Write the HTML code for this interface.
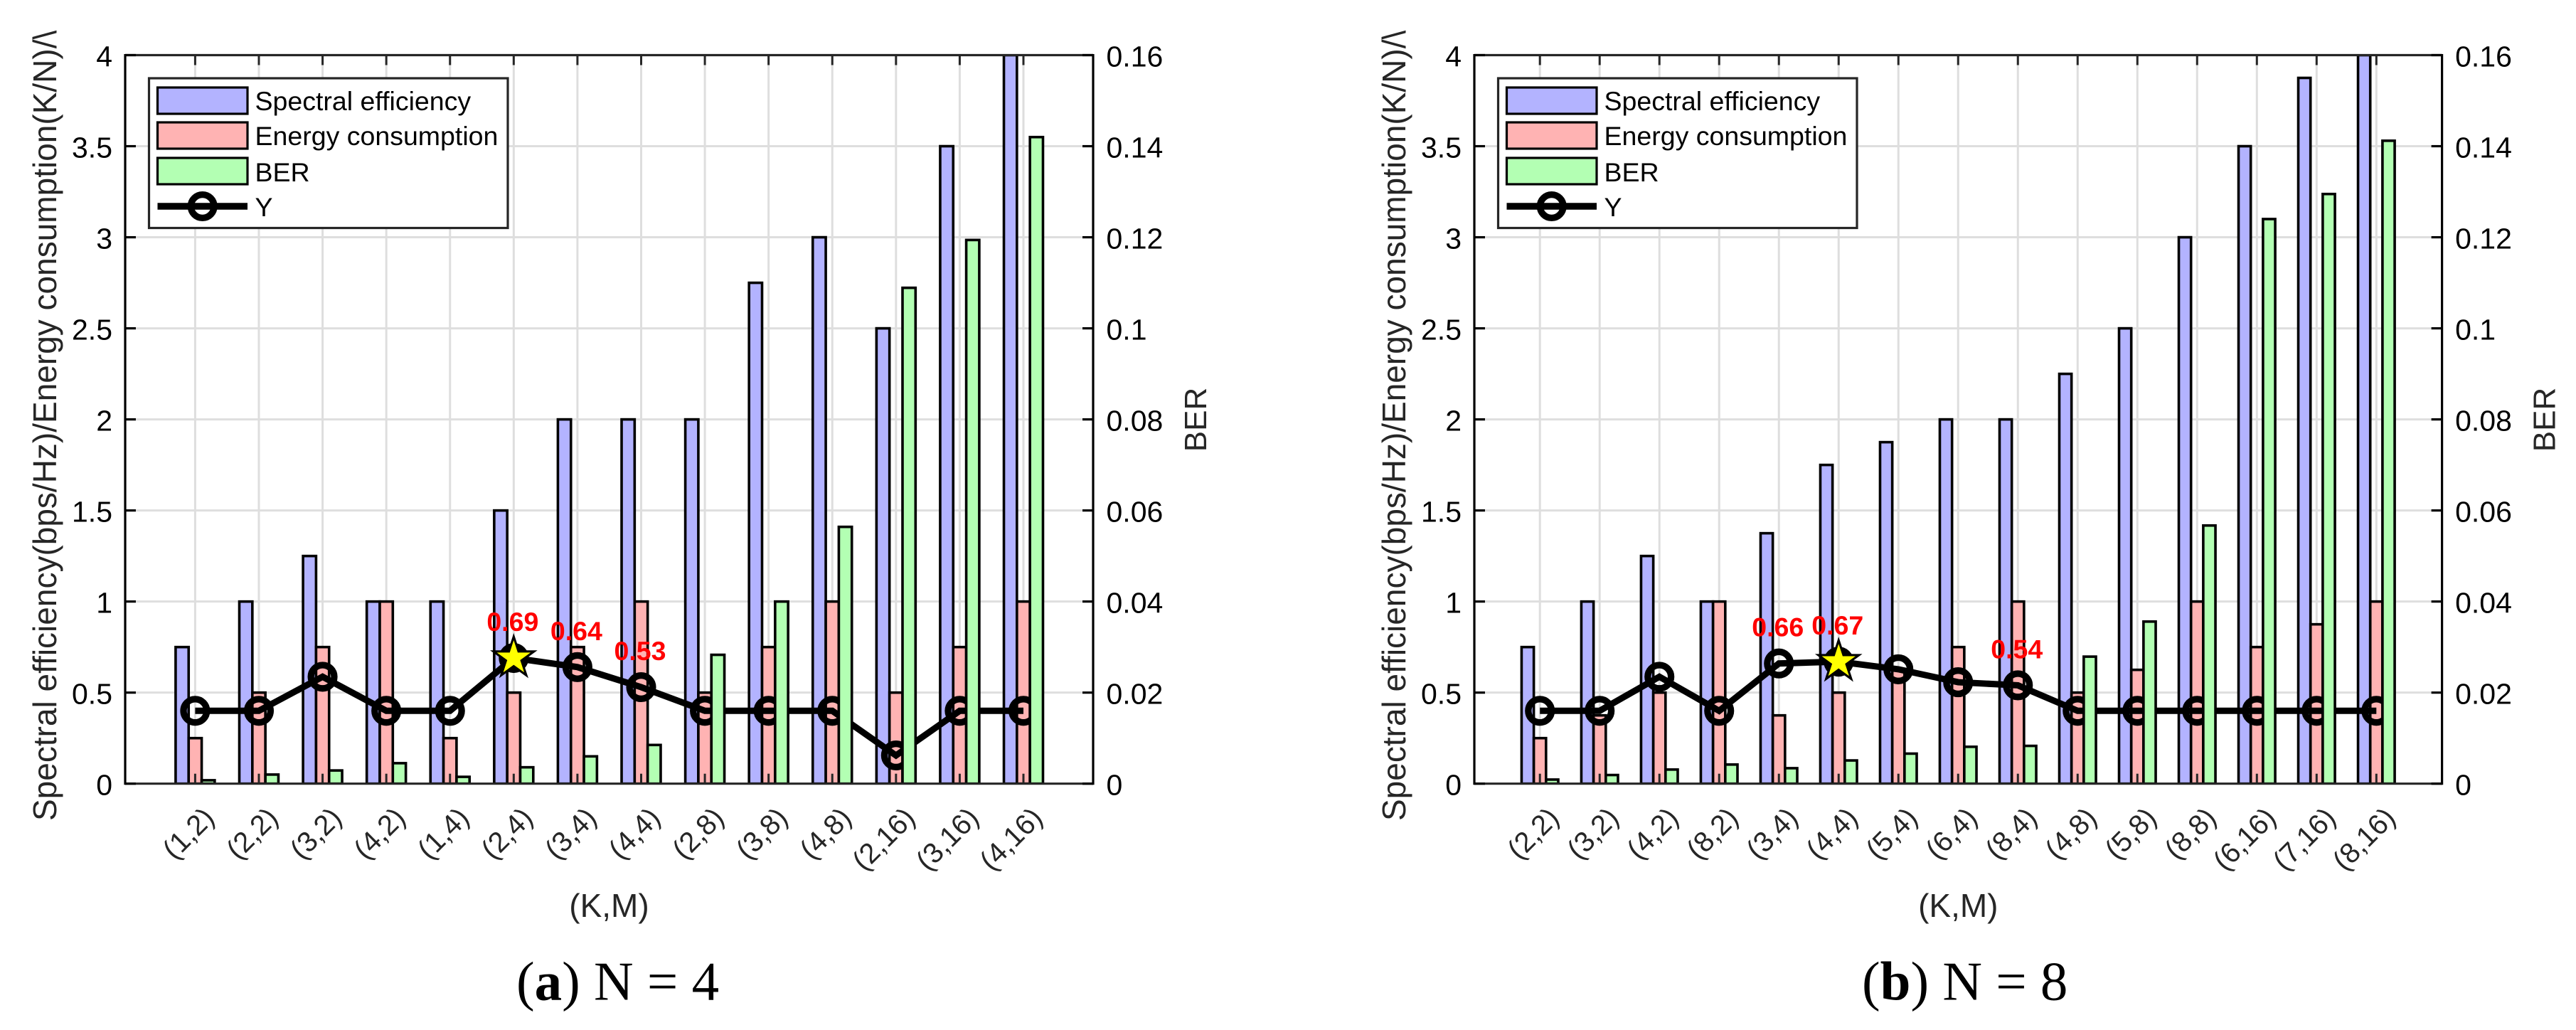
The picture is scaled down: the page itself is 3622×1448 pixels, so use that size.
<!DOCTYPE html>
<html lang="en">
<head>
<meta charset="utf-8">
<title>Spectral efficiency, energy consumption and BER for N = 4 and N = 8</title>
<style>
html,body{margin:0;padding:0;background:#fff;width:3622px;height:1448px;overflow:hidden}
svg{display:block;font-family:"Liberation Sans",Arial,sans-serif}
</style>
</head>
<body>
<svg id="figure" xmlns="http://www.w3.org/2000/svg" width="3622" height="1448" viewBox="0 0 3622 1448"></svg>
<script>
/* Panel (a) N = 4 data */
const categoriesA = ['(1,2)','(2,2)','(3,2)','(4,2)','(1,4)','(2,4)','(3,4)','(4,4)','(2,8)','(3,8)','(4,8)','(2,16)','(3,16)','(4,16)'];
const spectralA = [0.75,1,1.25,1,1,1.5,2,2,2,2.75,3,2.5,3.5,4];
const energyA = [0.25,0.5,0.75,1,0.25,0.5,0.75,1,0.5,0.75,1,0.5,0.75,1];
const berA = [0.00075,0.002,0.0029,0.0045,0.0015,0.0036,0.006,0.0085,0.0283,0.04,0.0564,0.1089,0.1194,0.142];
const yA = [0.4,0.4,0.587,0.4,0.4,0.69,0.64,0.53,0.4,0.4,0.4,0.155,0.4,0.4];
const annotatedA = [5,6,7];
const bestA = 5;

/* Panel (b) N = 8 data */
const categoriesB = ['(2,2)','(3,2)','(4,2)','(8,2)','(3,4)','(4,4)','(5,4)','(6,4)','(8,4)','(4,8)','(5,8)','(8,8)','(6,16)','(7,16)','(8,16)'];
const spectralB = [0.75,1,1.25,1,1.375,1.75,1.875,2,2,2.25,2.5,3,3.5,3.875,4];
const energyB = [0.25,0.375,0.5,1,0.375,0.5,0.625,0.75,1,0.5,0.625,1,0.75,0.875,1];
const berB = [0.0009,0.0019,0.0031,0.0042,0.0034,0.0051,0.0066,0.0081,0.0083,0.0279,0.0356,0.0567,0.124,0.1295,0.1412];
const yB = [0.4,0.4,0.587,0.4,0.66,0.67,0.628,0.557,0.54,0.4,0.4,0.4,0.4,0.4,0.4];
const annotatedB = [4,5,8];
const bestB = 5;

/* Shared axes data */
const leftTicks = [0,0.5,1,1.5,2,2.5,3,3.5,4];
const leftTickLabels = ['0','0.5','1','1.5','2','2.5','3','3.5','4'];
const rightTicks = [0,0.02,0.04,0.06,0.08,0.1,0.12,0.14,0.16];
const rightTickLabels = ['0','0.02','0.04','0.06','0.08','0.1','0.12','0.14','0.16'];
const legendLabels = ['Spectral efficiency','Energy consumption','BER','Y'];
const leftMax = 4;
const rightMax = 0.16;

const svg = document.getElementById('figure');
const NS = 'http://www.w3.org/2000/svg';
const BLUE = '#b3b3ff', PINK = '#ffb3b3', GREEN = '#b3ffb3', DARK = '#262626', GRID = '#dedede';

function make(parent, tag, attrs, text) {
  const node = document.createElementNS(NS, tag);
  for (const k in attrs) node.setAttribute(k, attrs[k]);
  if (text !== undefined) node.textContent = text;
  parent.appendChild(node);
  return node;
}

function starPoints(cx, cy, R) {
  const r = R * 0.382;
  const pts = [];
  for (let k = 0; k < 10; k++) {
    const a = -Math.PI / 2 + k * Math.PI / 5;
    const q = k % 2 ? r : R;
    pts.push((cx + q * Math.cos(a)).toFixed(1) + ',' + (cy + q * Math.sin(a)).toFixed(1));
  }
  return pts.join(' ');
}

function renderPanel(p) {
  const root = make(svg, 'g', {});
  
  

  const n = p.categories.length;
  const step = (p.lastTick - p.firstTick) / (n - 1);
  const barW = step * 0.2045;
  const xAt = i => p.firstTick + i * step;
  const top = 77.5, bottom = 1101.7;
  const yL = v => bottom - v / leftMax * (bottom - top);
  const yR = v => bottom - v / rightMax * (bottom - top);

  const clipId = 'plot-clip-' + p.id;
  const defs = make(root, 'defs', {});
  const clip = make(defs, 'clipPath', {id: clipId});
  make(clip, 'rect', {x: p.left, y: top, width: p.right - p.left, height: bottom - top});
  const labelClipId = 'label-clip-' + p.id;
  const labelClip = make(defs, 'clipPath', {id: labelClipId});
  make(labelClip, 'rect', {x: p.left - 176, y: 37, width: 170, height: 1300});

  /* grid */
  const grid = make(root, 'g', {stroke: GRID, 'stroke-width': 3, fill: 'none'});
  
  
  leftTicks.slice(1, -1).forEach(v => {
    make(grid, 'line', {x1: p.left, x2: p.right, y1: yL(v), y2: yL(v)});
  });
  p.categories.forEach((c, i) => {
    make(grid, 'line', {x1: xAt(i), x2: xAt(i), y1: top, y2: bottom});
  });

  const plot = make(root, 'g', {'clip-path': 'url(#' + clipId + ')'});
  
  

  /* blue and pink bars */
  p.spectral.forEach((v, i) => {
    const b = make(plot, 'rect', {x: xAt(i) - 1.5 * barW, y: yL(v), width: barW, height: bottom - yL(v), fill: BLUE, stroke: '#000', 'stroke-width': 3.6});
    
    
  });
  p.energy.forEach((v, i) => {
    const b = make(plot, 'rect', {x: xAt(i) - 0.5 * barW, y: yL(v), width: barW, height: bottom - yL(v), fill: PINK, stroke: '#000', 'stroke-width': 3.6});
    
    
  });

  /* Y line with circle markers */
  const line = make(plot, 'polyline', {points: p.y.map((v, i) => xAt(i) + ',' + yL(v)).join(' '), fill: 'none', stroke: '#000', 'stroke-width': 9, 'stroke-linejoin': 'miter'});
  
  
  p.y.forEach((v, i) => {
    const c = make(plot, 'circle', {cx: xAt(i), cy: yL(v), r: 16.4, fill: 'none', stroke: '#000', 'stroke-width': 9.3});
    
    
  });

  /* best-point star */
  const star = make(plot, 'polygon', {points: starPoints(xAt(p.best), yL(p.y[p.best]), 30), fill: '#ffff00', stroke: '#000', 'stroke-width': 3.1, 'stroke-miterlimit': 10});
  
  

  /* green bars sit above the line (right axis layer) */
  p.ber.forEach((v, i) => {
    const b = make(plot, 'rect', {x: xAt(i) + 0.5 * barW, y: yR(v), width: barW, height: bottom - yR(v), fill: GREEN, stroke: '#000', 'stroke-width': 3.6});
    
    
  });

  /* x ticks */
  const xTicks = make(root, 'g', {stroke: DARK, 'stroke-width': 3});
  
  
  p.categories.forEach((c, i) => {
    make(xTicks, 'line', {x1: xAt(i), x2: xAt(i), y1: top, y2: top + 14});
    make(xTicks, 'line', {x1: xAt(i), x2: xAt(i), y1: bottom, y2: bottom - 14});
  });

  /* axes frame */
  const frame = make(root, 'g', {fill: 'none', 'stroke-width': 3.2});
  
  
  make(frame, 'line', {x1: p.left, x2: p.right, y1: top, y2: top, stroke: DARK});
  make(frame, 'line', {x1: p.left, x2: p.right, y1: bottom, y2: bottom, stroke: DARK});
  make(frame, 'line', {x1: p.left, x2: p.left, y1: top - 1.5, y2: bottom + 1.5, stroke: '#000'});
  make(frame, 'line', {x1: p.right, x2: p.right, y1: top - 1.5, y2: bottom + 1.5, stroke: '#000'});

  /* left axis ticks and labels */
  leftTicks.forEach((v, i) => {
    make(frame, 'line', {x1: p.left, x2: p.left + 15, y1: yL(v), y2: yL(v), stroke: '#000'});
    const t = make(root, 'text', {x: p.left - 18, y: yL(v) + 16, 'text-anchor': 'end', 'font-size': 41, fill: '#000'}, leftTickLabels[i]);
    
    
  });

  /* right axis ticks and labels */
  rightTicks.forEach((v, i) => {
    make(frame, 'line', {x1: p.right, x2: p.right - 15, y1: yR(v), y2: yR(v), stroke: '#000'});
    const t = make(root, 'text', {x: p.right + 18.5, y: yR(v) + 16, 'font-size': 41, fill: '#000'}, rightTickLabels[i]);
    
    
  });

  /* x tick labels */
  p.categories.forEach((c, i) => {
    const ax = xAt(i) + 29, ay = 1152;
    const t = make(root, 'text', {x: ax, y: ay, 'text-anchor': 'end', 'font-size': 40, fill: DARK, transform: 'rotate(-45 ' + ax + ' ' + ay + ')'}, c);
    
    
  });

  /* data annotations */
  p.annotated.forEach(i => {
    const t = make(root, 'text', {x: xAt(i) - 1.5, y: yL(p.y[i]) - 38, 'text-anchor': 'middle', 'font-size': 37.5, 'font-weight': 'bold', fill: '#ff0000'}, p.y[i].toFixed(2));
    
    
  });

  /* axis titles */
  const lg = make(root, 'g', {'clip-path': 'url(#' + labelClipId + ')'});
  
  
  const lx = p.left - 97, ly = 1154;
  const lt = make(lg, 'text', {x: lx, y: ly, 'font-size': 46, fill: DARK, transform: 'rotate(-90 ' + lx + ' ' + ly + ')'}, 'Spectral efficiency(bps/Hz)/Energy consumption(K/N)/\\');
  
  

  const rx = p.right + p.berOffset, ry = 590;
  const rt = make(root, 'text', {x: rx, y: ry, 'text-anchor': 'middle', 'font-size': 44, fill: DARK, transform: 'rotate(-90 ' + rx + ' ' + ry + ')'}, 'BER');
  
  

  const xl = make(root, 'text', {x: (p.left + p.right) / 2, y: 1289, 'text-anchor': 'middle', 'font-size': 46, fill: DARK}, '(K,M)');
  
  

  /* legend */
  const lgBox = make(root, 'g', {});
  
  
  const lb = p.left + 33.5;
  make(lgBox, 'rect', {x: lb, y: 110, width: 504.5, height: 210.5, fill: '#fff', stroke: DARK, 'stroke-width': 3.2});
  const swatchColors = [BLUE, PINK, GREEN];
  const swatchTops = [123, 172, 222];
  const textBase = [155, 204, 255, 304];
  legendLabels.forEach((lab, i) => {
    if (i < 3) {
      const s = make(lgBox, 'rect', {x: lb + 12, y: swatchTops[i], width: 126.5, height: 37, fill: swatchColors[i], stroke: '#000', 'stroke-width': 3.2});
      
      
    } else {
      const l = make(lgBox, 'line', {x1: lb + 12, x2: lb + 138.5, y1: 290, y2: 290, stroke: '#000', 'stroke-width': 9.5});
      
      
      const m = make(lgBox, 'circle', {cx: lb + 75.2, cy: 290, r: 16.4, fill: 'none', stroke: '#000', 'stroke-width': 9.3});
      
      
    }
    const t = make(lgBox, 'text', {x: lb + 149, y: textBase[i], 'font-size': 37.5, fill: '#000'}, lab);
    
    
  });

  /* caption */
  const cap = make(root, 'text', {x: p.captionX, y: 1405.5, 'font-size': 77, fill: '#000', style: 'font-family:"Liberation Serif","Times New Roman",serif'});
  
  
  make(cap, 'tspan', {}, '(');
  make(cap, 'tspan', {'font-weight': 'bold'}, p.id);
  make(cap, 'tspan', {}, ') N = ' + p.nValue);
}

renderPanel({id: 'a', nValue: '4', categories: categoriesA, spectral: spectralA, energy: energyA, ber: berA, y: yA, annotated: annotatedA, best: bestA, left: 176, right: 1537, firstTick: 274.4, lastTick: 1439, berOffset: 159, captionX: 726});
renderPanel({id: 'b', nValue: '8', categories: categoriesB, spectral: spectralB, energy: energyB, ber: berB, y: yB, annotated: annotatedB, best: bestB, left: 2073, right: 3433.6, firstTick: 2165.2, lastTick: 3341.3, berOffset: 159, captionX: 2618});
</script>
</body>
</html>
